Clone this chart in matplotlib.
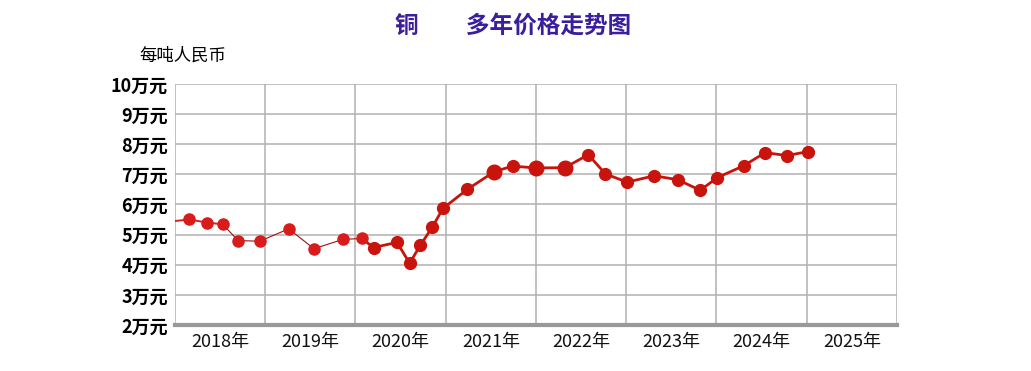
import numpy as np
import matplotlib.pyplot as plt

plt.rcParams['font.family'] = ['Noto Sans CJK SC', 'DejaVu Sans']

# 横轴: 0..8 对应 2018年初..2026年初
x_pos = [0.0, 0.16, 0.35, 0.53, 0.70, 0.94, 1.26, 1.54, 1.86, 2.07, 2.20, 2.46,
         2.60, 2.72, 2.85, 2.97, 3.24, 3.54, 3.74, 4.00, 4.32, 4.58, 4.77, 5.01,
         5.31, 5.57, 5.82, 6.01, 6.30, 6.54, 6.78, 7.01]
price = [5.45, 5.50, 5.40, 5.34, 4.80, 4.78, 5.19, 4.53, 4.84, 4.87, 4.57, 4.74,
         4.05, 4.65, 5.24, 5.87, 6.50, 7.09, 7.27, 7.21, 7.22, 7.65, 7.01, 6.74,
         6.95, 6.82, 6.47, 6.89, 7.28, 7.72, 7.62, 7.75]
big = [17, 19, 20]  # 放大的点
years = ['2018年', '2019年', '2020年', '2021年', '2022年', '2023年', '2024年', '2025年']
y_ticks = [2, 3, 4, 5, 6, 7, 8, 9, 10]
y_labels = [f'{v}万元' for v in y_ticks]

red = '#c8140c'
fig = plt.figure(figsize=(10.31, 3.71), dpi=100)
ax = fig.add_axes([0.1697, 0.124, 0.7003, 0.650])
ax.set_xlim(0, 8)
ax.set_ylim(2, 10)

# 折线: 前段细线
ax.plot(x_pos[:4], price[:4], color='#d42020', lw=1.4, zorder=3)
ax.plot(x_pos[3:10], price[3:10], color='#a01010', lw=0.8, zorder=3)
ax.plot(x_pos[9:], price[9:], color=red, lw=2.0, zorder=3)
ax.plot(x_pos[1:10], price[1:10], ls='none', marker='o', ms=8,
        color='#d81c1c', zorder=4)
ax.plot(x_pos[10:], price[10:], ls='none', marker='o', ms=8.5, color=red, zorder=4)
ax.plot([x_pos[i] for i in big], [price[i] for i in big], ls='none',
        marker='o', ms=10.5, color=red, zorder=4)

ax.set_xticks(np.arange(0, 9))
ax.set_xticks(np.arange(8) + 0.5, minor=True)
ax.set_xticklabels([])
ax.set_xticklabels(years, minor=True, fontsize=13, color='#111111')
ax.set_yticks(y_ticks)
ax.set_yticklabels(y_labels, fontsize=13, fontweight='bold')
ax.tick_params(which='both', length=0, pad=5)
ax.tick_params(axis='x', which='minor', pad=6)
ax.grid(True, which='major', color='#b0b0b0', lw=1.1)
for s in ['left', 'right', 'top']:
    ax.spines[s].set_visible(False)
ax.spines['bottom'].set_color('#999999')
ax.spines['bottom'].set_linewidth(3)

fig.text(0.498, 0.93, '铜　　多年价格走势图', fontsize=17, color='#3a1e9e',
         ha='center', va='center', fontweight='bold')
fig.text(0.135, 0.85, '每吨人民币', fontsize=12.5, color='black', ha='left', va='center')

fig.savefig('out.png', dpi=100)
